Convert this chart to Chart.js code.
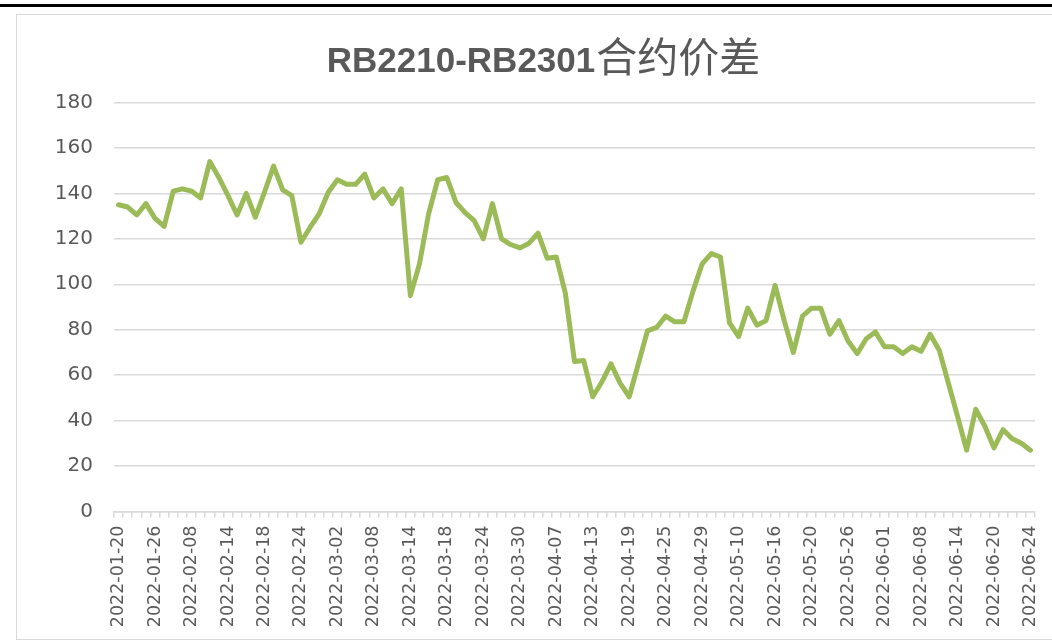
<!DOCTYPE html>
<html>
<head>
<meta charset="utf-8">
<script src="https://cdn.jsdelivr.net/npm/chart.js@4.4.0/dist/chart.umd.min.js"></script>
<style>
  html, body { margin: 0; padding: 0; background: #ffffff; overflow: hidden; width: 1052px; height: 640px; }
  #topline { position: absolute; left: 0; top: 4px; width: 1052px; height: 3px; background: #000; }
  #frame { position: absolute; left: 16px; top: 14px; width: 1060px; height: 626px; border: 1px solid #d9d9d9; box-sizing: border-box; }
  #c { position: absolute; left: 0; top: 0; }
</style>
</head>
<body>
<div id="topline"></div>
<div id="frame"><canvas id="c" width="1052" height="623"></canvas></div>
<script>
const titleLatin = 'RB2210-RB2301';
const titleCJK = '合约价差';
const titleText = titleLatin + titleCJK;

const dates = [
  '2022-01-20','2022-01-21','2022-01-24','2022-01-25','2022-01-26','2022-01-27','2022-01-28',
  '2022-02-07','2022-02-08','2022-02-09','2022-02-10','2022-02-11','2022-02-14','2022-02-15','2022-02-16','2022-02-17','2022-02-18',
  '2022-02-21','2022-02-22','2022-02-23','2022-02-24','2022-02-25','2022-02-28',
  '2022-03-01','2022-03-02','2022-03-03','2022-03-04','2022-03-07','2022-03-08','2022-03-09','2022-03-10','2022-03-11',
  '2022-03-14','2022-03-15','2022-03-16','2022-03-17','2022-03-18','2022-03-21','2022-03-22','2022-03-23','2022-03-24','2022-03-25',
  '2022-03-28','2022-03-29','2022-03-30','2022-03-31',
  '2022-04-01','2022-04-06','2022-04-07','2022-04-08','2022-04-11','2022-04-12','2022-04-13','2022-04-14','2022-04-15',
  '2022-04-18','2022-04-19','2022-04-20','2022-04-21','2022-04-22','2022-04-25','2022-04-26','2022-04-27','2022-04-28','2022-04-29',
  '2022-05-05','2022-05-06','2022-05-09','2022-05-10','2022-05-11','2022-05-12','2022-05-13','2022-05-16','2022-05-17','2022-05-18',
  '2022-05-19','2022-05-20','2022-05-23','2022-05-24','2022-05-25','2022-05-26','2022-05-27','2022-05-30','2022-05-31',
  '2022-06-01','2022-06-02','2022-06-06','2022-06-07','2022-06-08','2022-06-09','2022-06-10','2022-06-13','2022-06-14','2022-06-15',
  '2022-06-16','2022-06-17','2022-06-20','2022-06-21','2022-06-22','2022-06-23','2022-06-24'
];

const spread = [
  135, 134, 130.5, 135.5, 129, 125.5, 141, 142, 141, 138,
  154, 147, 139, 130.5, 140, 129.5, 140.5, 152, 141.5, 139,
  118.5, 125, 131, 140.5, 146, 144, 144, 148.5, 138, 142,
  135.5, 142, 95, 109, 131, 146, 147, 136, 131.5, 128,
  120, 135.5, 120, 117.5, 116, 118, 122.5, 111.5, 112, 96,
  66, 66.5, 50.5, 57, 65, 56.5, 50.5, 65, 79.5, 81,
  86, 83.5, 83.5, 97, 109, 113.5, 112, 83, 77, 89.5,
  82, 84, 99.5, 84, 70, 86, 89.5, 89.5, 78, 84,
  75, 69.5, 76, 79, 72.5, 72.5, 69.5, 72.5, 70.5, 78,
  71, 56.5, 42, 27, 45, 37.5, 28, 36, 32, 30,
  27
];

const yMin = 0;
const yMax = 180;
const yStep = 20;
const labelEvery = 4;

const textColor = '#595959';
const gridColor = '#d9d9d9';

// Title drawn in two runs: bold Latin part and regular-weight CJK part
const splitTitle = {
  id: 'splitTitle',
  afterDraw(chart) {
    const ctx = chart.ctx;
    ctx.save();
    const fLatin = "bold 35px 'Liberation Sans', sans-serif";
    const fCJK = "41px 'Noto Sans CJK SC', sans-serif";
    ctx.font = fLatin;
    const w1 = ctx.measureText(titleLatin).width;
    ctx.font = fCJK;
    const w2 = ctx.measureText(titleCJK).width;
    const x0 = chart.width / 2 - (w1 + w2) / 2;
    const baseY = 57;
    ctx.fillStyle = textColor;
    ctx.textAlign = 'left';
    ctx.textBaseline = 'alphabetic';
    ctx.font = fLatin;
    ctx.fillText(titleLatin, x0, baseY);
    ctx.font = fCJK;
    ctx.fillText(titleCJK, x0 + w1 + 1, baseY);
    ctx.restore();
  }
};

new Chart(document.getElementById('c'), {
  type: 'line',
  data: {
    labels: dates,
    datasets: [{
      label: titleText,
      data: spread,
      borderColor: '#9bbb59',
      backgroundColor: '#9bbb59',
      borderWidth: 5,
      pointRadius: 0,
      tension: 0,
      borderJoinStyle: 'round',
      borderCapStyle: 'round',
      fill: false
    }]
  },
  plugins: [splitTitle],
  options: {
    responsive: false,
    devicePixelRatio: 1,
    animation: false,
    layout: { padding: { left: 0, right: 34, top: 0, bottom: 0 } },
    plugins: {
      legend: { display: false },
      tooltip: { enabled: false },
      title: {
        display: true,
        text: titleText,
        color: 'rgba(0,0,0,0)',
        font: { family: "'Liberation Sans', 'Noto Sans CJK SC', sans-serif", size: 35, weight: 'bold', lineHeight: 1.2 },
        padding: { top: 24, bottom: 21.5 }
      }
    },
    scales: {
      x: {
        offset: true,
        grid: {
          display: true,
          drawOnChartArea: false,
          drawTicks: true,
          tickLength: 6,
          offset: true,
          color: gridColor,
          lineWidth: 1.5
        },
        border: { display: true, color: gridColor, width: 1.5 },
        ticks: {
          autoSkip: false,
          maxRotation: 90,
          minRotation: 90,
          padding: 8,
          color: textColor,
          font: { family: "'DejaVu Sans', sans-serif", size: 17.5 },
          callback: function(v, i) { return i % labelEvery === 0 ? dates[i] : ''; }
        },
        afterFit: function(scale) { scale.height = 126.5; }
      },
      y: {
        min: yMin,
        max: yMax,
        grid: { color: gridColor, lineWidth: 1.5, drawTicks: false },
        border: { display: false },
        ticks: {
          stepSize: yStep,
          padding: 21,
          color: textColor,
          font: { family: "'DejaVu Sans', sans-serif", size: 20 }
        },
        afterFit: function(scale) { scale.width = 97; }
      }
    }
  }
});
</script>
</body>
</html>
